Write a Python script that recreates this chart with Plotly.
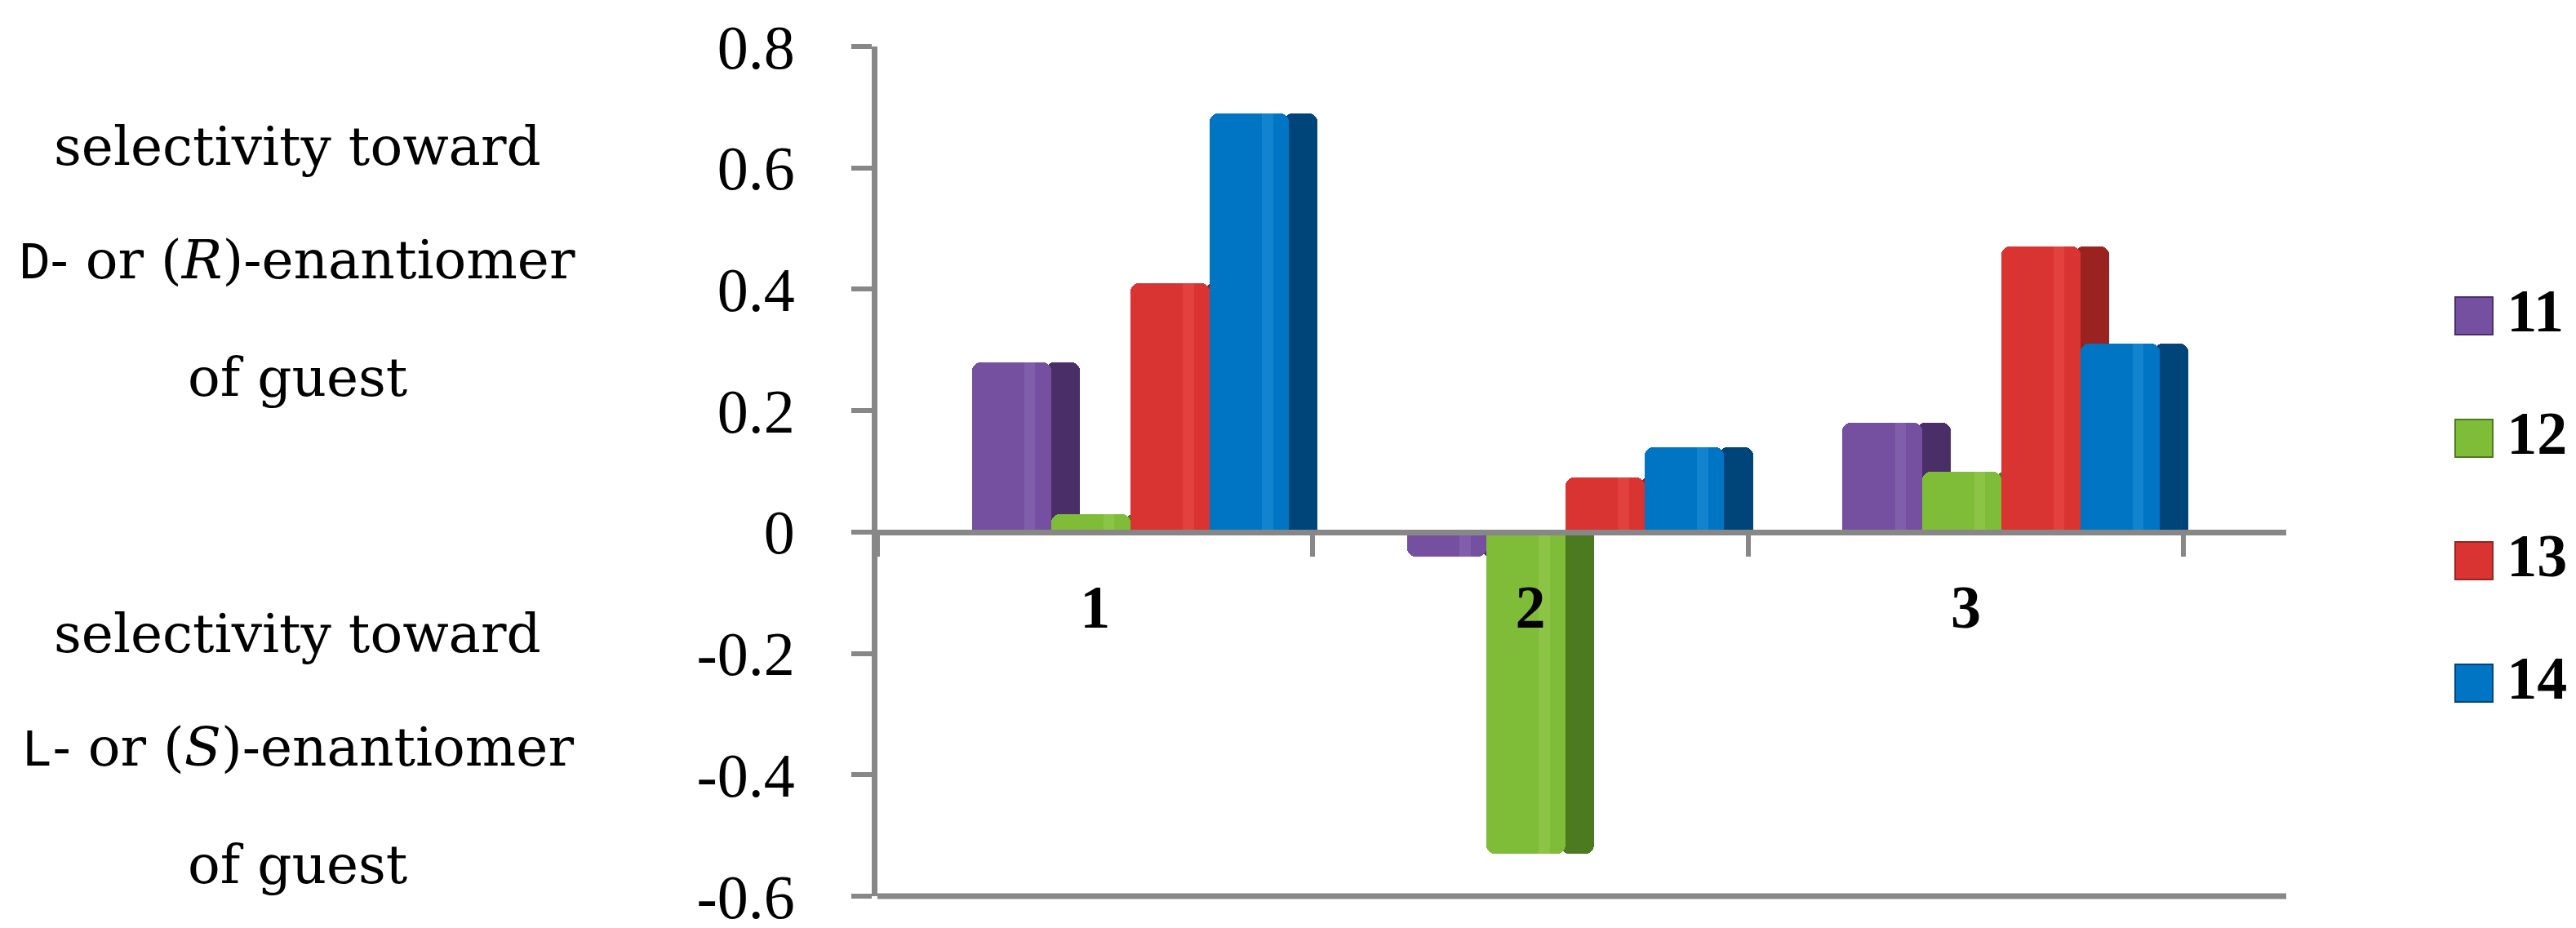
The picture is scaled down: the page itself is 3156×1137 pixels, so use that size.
import plotly.graph_objects as go

# selectivity values
categories = ["1", "2", "3"]
series_names = ["11", "12", "13", "14"]
values_11 = [0.28, -0.04, 0.18]
values_12 = [0.03, -0.53, 0.10]
values_13 = [0.41, 0.09, 0.47]
values_14 = [0.69, 0.14, 0.31]

y_tickvals = [-0.6, -0.4, -0.2, 0, 0.2, 0.4, 0.6, 0.8]
y_ticktext = ["-0.6", "-0.4", "-0.2", "0", "0.2", "0.4", "0.6", "0.8"]

small_cap = '<span style="font-family:Liberation Mono;font-size:64px">{}</span>'
upper_lines = ["selectivity toward",
               small_cap.format("D") + "- or (<i>R</i>)-enantiomer",
               "of guest"]
lower_lines = ["selectivity toward",
               small_cap.format("L") + "- or (<i>S</i>)-enantiomer",
               "of guest"]

W, H = 3156, 1137
front_colors = ["#7650a0", "#7fbc38", "#d93432", "#0075c4"]
side_colors = ["#4a2e67", "#4c7a21", "#9a2220", "#00457a"]
light_colors = ["#9474bb", "#9fd35a", "#f05450", "#2a98e0"]
AXIS_GREY = "#878787"
SERIF = "Liberation Serif"
TEXT_SERIF = "DejaVu Serif"

front_w = 0.182   # width of a bar's front face, in category units
side_w = 0.066    # visible depth face
start = -0.283
tuck = 0.012      # side face slides under the front face, no seam

all_values = [values_11, values_12, values_13, values_14]

fig = go.Figure()
for i, (name, vals) in enumerate(zip(series_names, all_values)):
    s = start + i * front_w
    fig.add_trace(go.Bar(x=categories, y=vals, name=name, offset=s + front_w - tuck,
                         width=side_w + tuck,
                         marker=dict(color=side_colors[i], line_width=0, cornerradius=10),
                         showlegend=False, hoverinfo="skip"))
    fig.add_trace(go.Bar(x=categories, y=vals, name=name, offset=s, width=front_w,
                         marker=dict(color=front_colors[i], line_width=0, cornerradius=10),
                         showlegend=False))
    fig.add_trace(go.Bar(x=categories, y=vals, name=name, offset=s + 0.66 * front_w,
                         width=0.14 * front_w, opacity=0.4,
                         marker=dict(color=light_colors[i], line_width=0),
                         showlegend=False, hoverinfo="skip"))

# hand-made legend with large square keys
legend_idx = list(range(len(series_names)))
fig.add_trace(go.Scatter(x=[0.398] * len(series_names), y=legend_idx, mode="markers",
                         marker=dict(symbol="square", size=46, color=front_colors,
                                     line=dict(color=side_colors, width=2)),
                         xaxis="x2", yaxis="y2", showlegend=False, hoverinfo="skip"))
fig.add_trace(go.Scatter(x=[0.58] * len(series_names), y=legend_idx, mode="text",
                         text=series_names, textposition="middle right",
                         textfont=dict(family=SERIF, size=74, color="black", weight="bold"),
                         xaxis="x2", yaxis="y2", showlegend=False, hoverinfo="skip"))

x_dom = [1067 / W, 2793 / W]
y_dom = [(H - 1090) / H, (H - 49) / H]
zero_pos = 1 - 644 / H

anns = []
for lines, centers in ((upper_lines, [171, 312, 454]), (lower_lines, [768, 909, 1051])):
    for txt, cy in zip(lines, centers):
        anns.append(dict(text=txt, x=356 / W, y=1 - cy / H, xref="paper", yref="paper",
                         xanchor="center", yanchor="middle", showarrow=False,
                         font=dict(family=TEXT_SERIF, size=66, color="black")))

fig.update_layout(
    width=W, height=H,
    margin=dict(l=0, r=0, t=0, b=0, autoexpand=False),
    paper_bgcolor="white", plot_bgcolor="white",
    barmode="overlay", bargap=0,
    showlegend=False,
    annotations=anns,
    xaxis=dict(domain=x_dom, type="category", range=[-0.5, 2.736],
               anchor="free", position=zero_pos, automargin=False,
               showline=True, linecolor=AXIS_GREY, linewidth=7,
               ticks="outside", tickson="boundaries", ticklen=26, tickwidth=6,
               tickcolor=AXIS_GREY, showgrid=False, ticklabelstandoff=24,
               tickfont=dict(family=SERIF, size=74, color="black", weight="bold")),
    yaxis=dict(domain=y_dom, range=[-0.6, 0.8], tickvals=y_tickvals, ticktext=y_ticktext,
               automargin=False,
               showline=True, linecolor=AXIS_GREY, linewidth=7,
               ticks="outside", ticklen=25, tickwidth=6, tickcolor=AXIS_GREY,
               showgrid=False, zeroline=False, ticklabelstandoff=54,
               tickfont=dict(family=SERIF, size=76, color="black")),
    xaxis2=dict(domain=[2935 / W, 1.0], range=[0, 1], visible=False, anchor="y2",
                automargin=False),
    yaxis2=dict(domain=[1 - 904 / H, 1 - 304 / H], range=[3.5, -0.5], visible=False,
                anchor="x2", automargin=False),
    shapes=[dict(type="line", xref="x domain", yref="y domain", x0=0, x1=1, y0=0, y1=0,
                 line=dict(color=AXIS_GREY, width=7))],
)

fig.write_html("out.html")
